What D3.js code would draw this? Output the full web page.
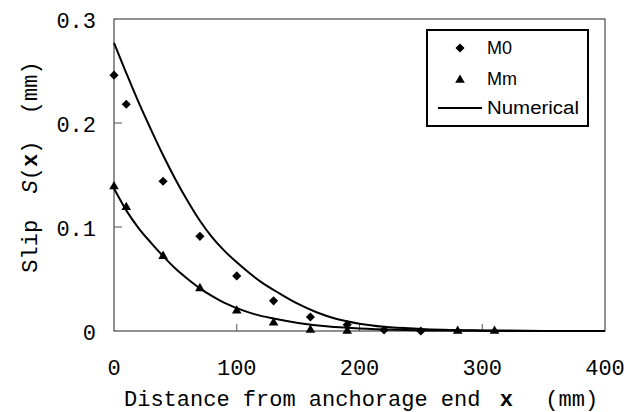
<!DOCTYPE html>
<html>
<head>
<meta charset="utf-8">
<script src="https://cdn.jsdelivr.net/npm/d3@7"></script>
<style>
  html, body { margin: 0; padding: 0; background: #fff; }
  svg text { white-space: pre; }
</style>
</head>
<body>
<div id="chart"></div>
<script>
/* Slip distribution along the anchorage: measured M0 / Mm and numerical curves */

/* ── Data ─────────────────────────────────────────────────────────────── */
const m0X = [0, 10, 40, 70, 100, 130, 160, 190, 220, 250];
const m0S = [0.246, 0.218, 0.144, 0.091, 0.053, 0.029, 0.0135, 0.006, 0.001, 0.0];

const mmX = [0, 10, 40, 70, 100, 130, 160, 190, 280, 310];
const mmS = [0.139, 0.119, 0.072, 0.041, 0.0195, 0.008, 0.001, 0.0, 0.0, 0.0];

const numM0X = [0, 10, 20, 30, 40, 50, 60, 70, 80, 90, 100, 110, 120, 135, 150, 165, 180, 200, 220, 250, 300, 350, 400];
const numM0S = [0.277, 0.248, 0.220, 0.194, 0.169, 0.146, 0.125, 0.106, 0.090, 0.077, 0.066, 0.056, 0.047, 0.036, 0.026,
                0.018, 0.012, 0.007, 0.004, 0.002, 0.0006, 0.0001, 0.0];

const numMmX = [0, 10, 20, 30, 40, 50, 60, 70, 80, 90, 100, 115, 130, 150, 175, 200, 230, 270, 320, 400];
const numMmS = [0.137, 0.116, 0.099, 0.085, 0.072, 0.060, 0.050, 0.041, 0.0335, 0.027, 0.022, 0.016, 0.012, 0.0078,
                0.0043, 0.0025, 0.0012, 0.0004, 0.0001, 0.0];

const xTicks = [0, 100, 200, 300, 400];
const yTicks = [0, 0.1, 0.2, 0.3];
const yTickLabels = ['0', '0.1', '0.2', '0.3'];

/* ── Layout ───────────────────────────────────────────────────────────── */
const TW = 631, TH = 412;
const M = { top: 19, right: 26, bottom: 81, left: 114 };
const W = TW - M.left - M.right;
const H = TH - M.top - M.bottom;
const AXIS_FONT = '"Liberation Mono", "DejaVu Sans Mono", monospace';
const LEG_FONT = '"Liberation Sans", Arial, sans-serif';

const svg = d3.select('#chart').append('svg')
  .attr('width', TW).attr('height', TH);

const root = svg.append('g').attr('transform', `translate(${M.left},${M.top})`);

const x = d3.scaleLinear().domain([0, 400]).range([0, W]);
const y = d3.scaleLinear().domain([0, 0.3]).range([H, 0]);

/* ── Frame + inward ticks ─────────────────────────────────────────────── */
root.append('rect')
  .attr('width', W).attr('height', H)
  .attr('fill', 'none').attr('stroke', '#222').attr('stroke-width', 1);

root.selectAll('.xt').data(xTicks.slice(1, -1)).join('line')
  .attr('x1', d => x(d)).attr('x2', d => x(d))
  .attr('y1', H).attr('y2', H - 7)
  .attr('stroke', '#555').attr('stroke-width', 1);

root.selectAll('.yt').data(yTicks.slice(1, -1)).join('line')
  .attr('x1', 0).attr('x2', 8)
  .attr('y1', d => y(d)).attr('y2', d => y(d))
  .attr('stroke', '#555').attr('stroke-width', 1);

// Tick labels
root.selectAll('.xl').data(xTicks).join('text')
  .attr('x', d => x(d)).attr('y', H + 44)
  .attr('text-anchor', 'middle')
  .attr('font-family', AXIS_FONT).attr('font-size', 22)
  .text(d => d);

root.selectAll('.yl').data(yTicks).join('text')
  .attr('x', -18).attr('y', d => y(d) + 9)
  .attr('text-anchor', 'end')
  .attr('font-family', AXIS_FONT).attr('font-size', 22)
  .text((d, i) => yTickLabels[i]);

/* ── Axis titles ──────────────────────────────────────────────────────── */
const xTitle = svg.append('text')
  .attr('x', 124).attr('y', 406)
  .attr('font-family', AXIS_FONT).attr('font-size', 22);
xTitle.append('tspan').text('Distance from anchorage end ');
xTitle.append('tspan').attr('dx', 6).attr('font-weight', 'bold').text('x');
xTitle.append('tspan').attr('dx', 6).text('  (mm)');

const yTitle = svg.append('text')
  .attr('transform', 'translate(37,167) rotate(-90)')
  .attr('text-anchor', 'middle')
  .attr('font-family', AXIS_FONT).attr('font-size', 22);
yTitle.append('tspan').text('Slip  ');
yTitle.append('tspan').attr('font-style', 'italic').text('S');
yTitle.append('tspan').text('(');
yTitle.append('tspan').attr('font-weight', 'bold').text('x');
yTitle.append('tspan').text(')  (mm)');

/* ── Numerical curves ─────────────────────────────────────────────────── */
const line = d3.line()
  .x(d => x(d[0])).y(d => y(d[1]))
  .curve(d3.curveMonotoneX);

[[numM0X, numM0S], [numMmX, numMmS]].forEach(([xs, ss]) => {
  root.append('path')
    .datum(xs.map((v, i) => [v, ss[i]]))
    .attr('d', line)
    .attr('fill', 'none').attr('stroke', '#000').attr('stroke-width', 2);
});

/* ── Measured markers ─────────────────────────────────────────────────── */
const diamond = d3.symbol().type(d3.symbolSquare).size(42);
const triangle = d3.symbol().type(d3.symbolTriangle).size(40);

root.selectAll('.m0').data(m0X.map((v, i) => [v, m0S[i]])).join('path')
  .attr('d', diamond)
  .attr('transform', d => `translate(${x(d[0])},${y(d[1])}) rotate(45)`)
  .attr('fill', '#000');

root.selectAll('.mm').data(mmX.map((v, i) => [v, mmS[i]])).join('path')
  .attr('d', triangle)
  .attr('transform', d => `translate(${x(d[0])},${y(d[1])})`)
  .attr('fill', '#000');

/* ── Legend ───────────────────────────────────────────────────────────── */
const leg = svg.append('g').attr('transform', 'translate(427,30)');
leg.append('rect')
  .attr('width', 161).attr('height', 96)
  .attr('fill', '#fff').attr('stroke', '#000').attr('stroke-width', 2);

leg.append('path').attr('d', diamond)
  .attr('transform', 'translate(33,18) rotate(45)').attr('fill', '#000');
leg.append('path').attr('d', triangle)
  .attr('transform', 'translate(33,50)').attr('fill', '#000');
leg.append('line')
  .attr('x1', 11).attr('x2', 55).attr('y1', 78).attr('y2', 78)
  .attr('stroke', '#000').attr('stroke-width', 2);

[['M0', 24, null], ['Mm', 55, null], ['Numerical', 84, 92]].forEach(([t, yy, len]) => {
  const tx = leg.append('text')
    .attr('x', 60).attr('y', yy)
    .attr('font-family', LEG_FONT).attr('font-size', 18)
    .text(t);
  if (len) tx.attr('textLength', len).attr('lengthAdjust', 'spacingAndGlyphs');
});
</script>
</body>
</html>
